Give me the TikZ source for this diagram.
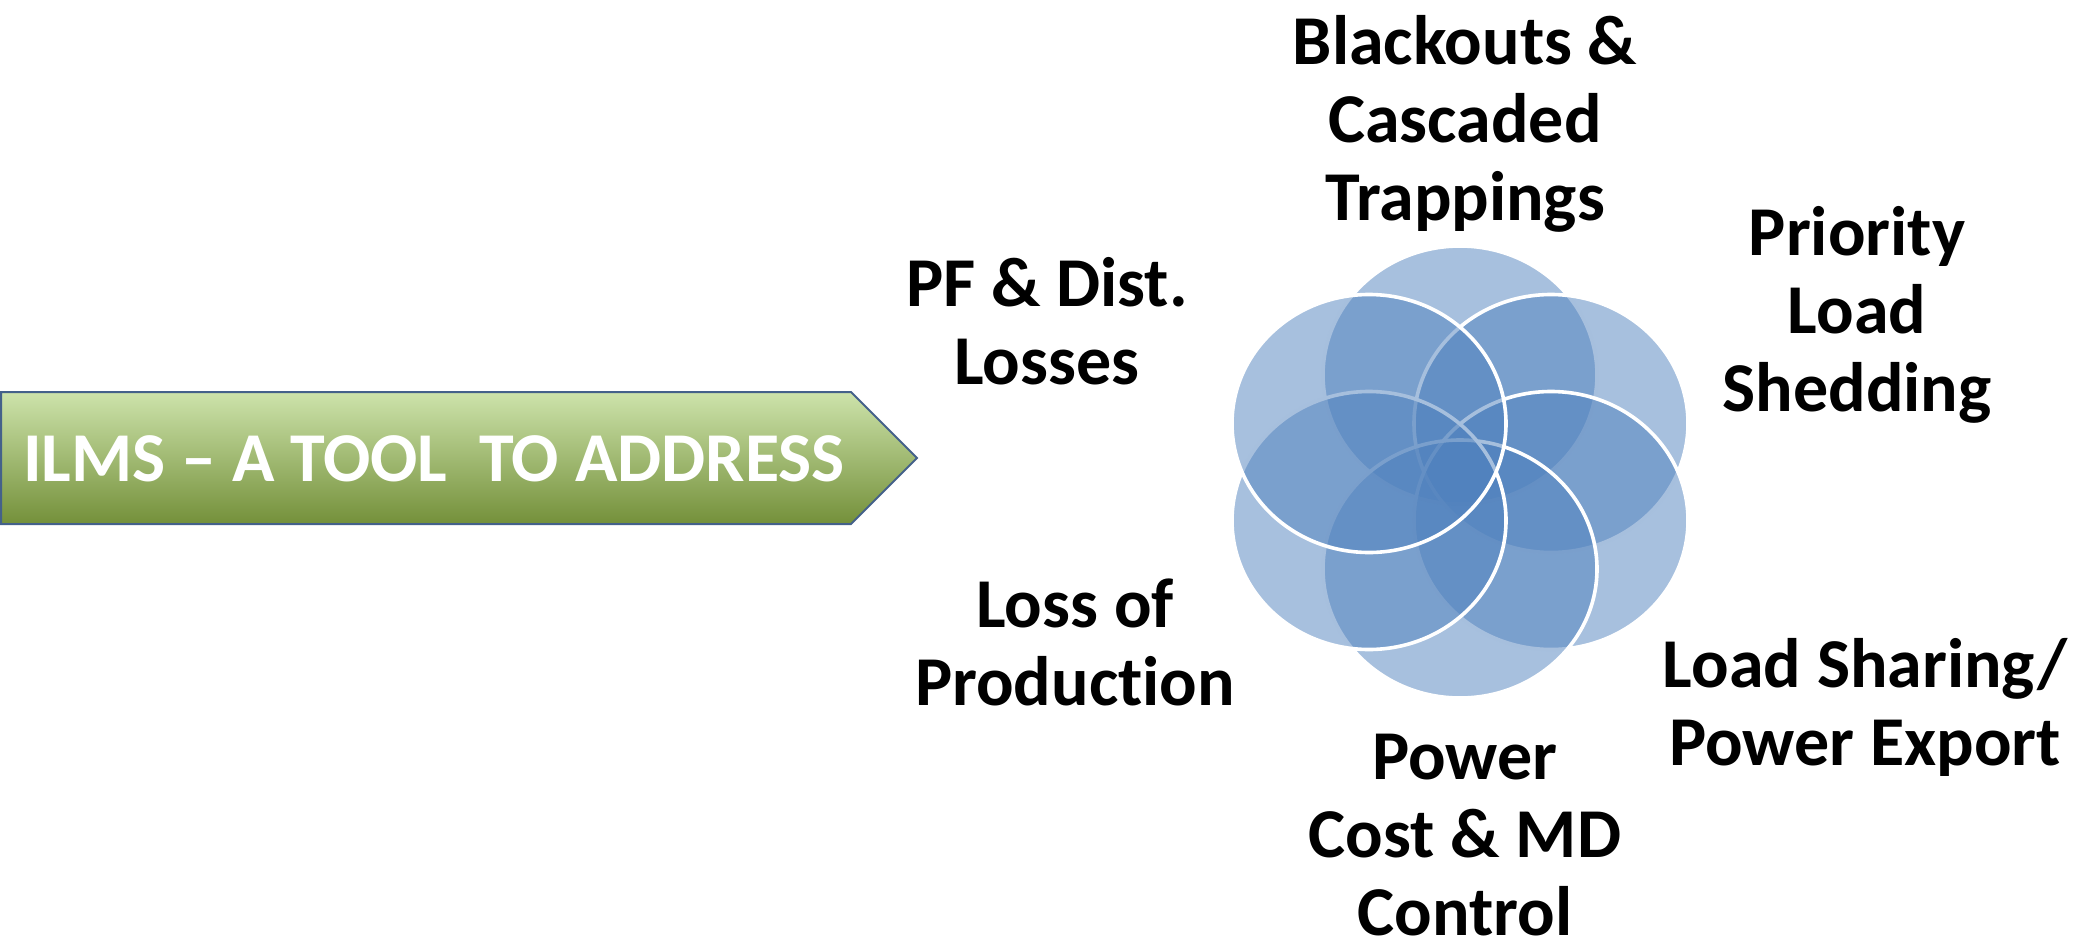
\documentclass[tikz,border=0pt]{standalone}
\usepackage{fontspec}
\setmainfont{Carlito}[Ligatures=NoCommon]
\usetikzlibrary{shapes.geometric}
\definecolor{petalblue}{HTML}{4F81BD}
\definecolor{greentop}{HTML}{CDE3AB}
\definecolor{greenmid}{HTML}{A6C967}
\definecolor{greenbot}{HTML}{74903A}
\definecolor{arrowedge}{HTML}{44618A}
\newcommand{\stacklines}[1]{\vtop{\baselineskip=39pt\lineskiplimit=-100pt\halign{\hfil##\hfil\cr #1\crcr}}}
\begin{document}
\begin{tikzpicture}[x=0.5pt,y=-0.5pt]
\tikzset{
  lbl/.style={font=\bfseries\fontsize{35}{39}\selectfont, inner sep=0pt, anchor=base, text=black},
  petal/.style={ellipse, minimum width=137pt, minimum height=129pt, inner sep=0pt,
    fill=petalblue, fill opacity=0.5, draw=white, draw opacity=1, line width=1.8pt},
  arrowtext/.style={font=\bfseries\fontsize{35}{39}\selectfont, inner sep=0pt, anchor=base, text=white},
}
\useasboundingbox (0,0) rectangle (2084,948);
% arrow
\shade[top color=greentop, middle color=greenmid, bottom color=greenbot, draw=arrowedge, line width=1pt]
  (1,392) -- (851,392) -- (917,458) -- (851,524) -- (1,524) -- cycle;
\node[arrowtext] (ilms) at (434,481) {ILMS – A TOOL\ \ TO ADDRESS};
% petals, drawn clockwise from the top
\node[petal] (ptop) at (1460,375) {};
\node[petal] (pur) at (1551,423.5) {};
\node[petal] (plr) at (1551,520.5) {};
\node[petal] (pbot) at (1460,569) {};
\node[petal] (pll) at (1369,520.5) {};
\node[petal] (pul) at (1369,423.5) {};
% labels
\node[lbl] (blackouts) at (1465,64) {\stacklines{Blackouts \&\cr Cascaded\cr Trappings}};
\node[lbl] (pf) at (1047,306) {\stacklines{PF \& Dist.\cr Losses}};
\node[lbl] (priority) at (1857,255) {\stacklines{Priority\cr Load\cr Shedding}};
\node[lbl] (lossprod) at (1075,627) {\stacklines{Loss of\cr Production}};
\node[lbl] (loadsharing) at (1865,687) {\stacklines{Load Sharing/\cr Power Export}};
\node[lbl] (powercost) at (1465,779) {\stacklines{Power\cr Cost \& MD\cr Control}};
\end{tikzpicture}
\end{document}
